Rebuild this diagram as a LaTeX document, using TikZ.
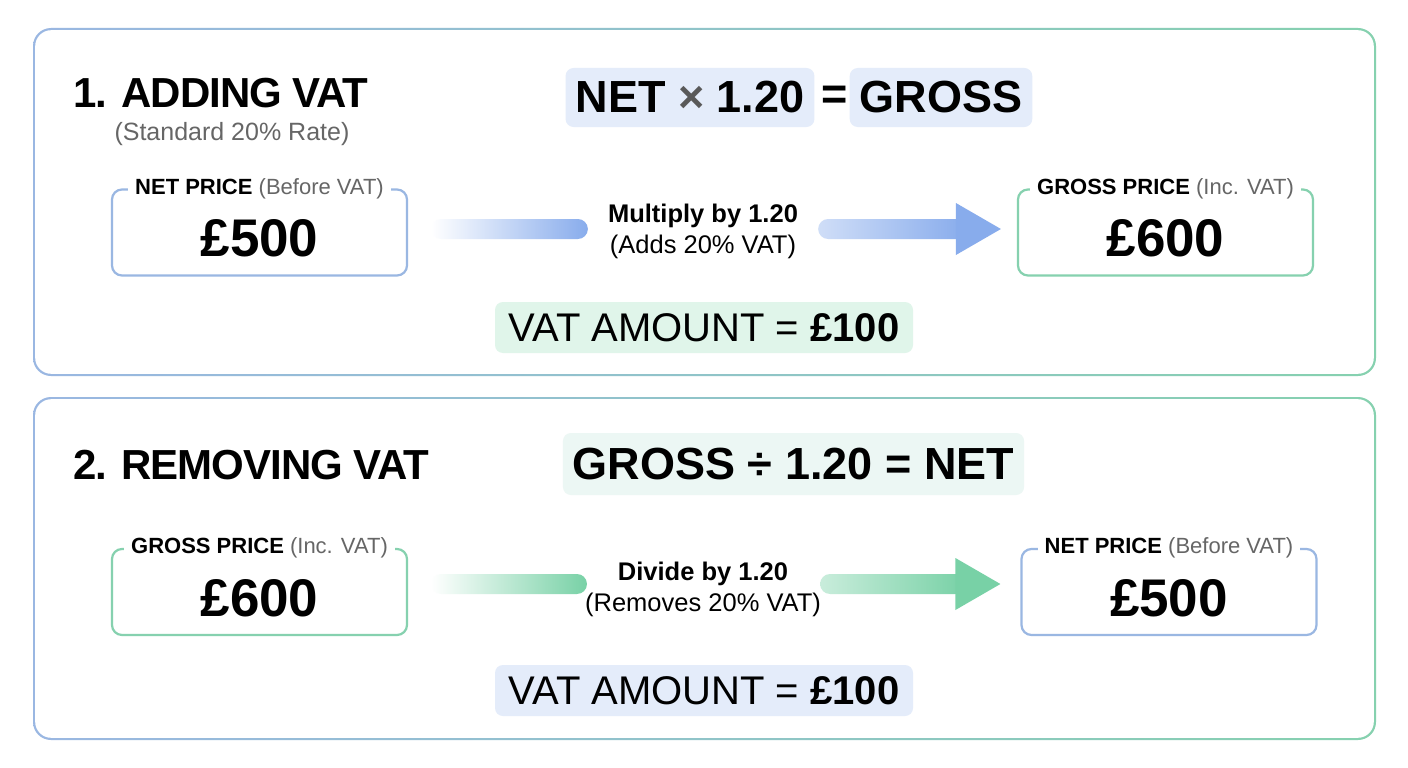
\documentclass[tikz,border=0pt]{standalone}
\usepackage{fontspec}
\setmainfont{Liberation Sans}
\newfontfamily\headfam{Liberation Sans}[LetterSpace=-2.5]
\usetikzlibrary{positioning,calc}

\definecolor{blueline}{HTML}{9AB7E2}
\definecolor{greenline}{HTML}{86D1AF}
\definecolor{bluefill}{HTML}{E4ECFA}
\definecolor{greenfill}{HTML}{E0F5EA}
\definecolor{tealfill}{HTML}{ECF7F4}
\definecolor{bluearrow}{HTML}{88ACEC}
\definecolor{greenarrow}{HTML}{78D1A6}
\definecolor{subgray}{HTML}{666666}

\tikzset{
  sectitle/.style={anchor=base west, font=\headfam\fontsize{42}{50}\selectfont\bfseries},
  secnote/.style={anchor=base west, text=subgray, font=\fontsize{25}{30}\selectfont},
  formbox/.style={rounded corners=8, minimum height=59, inner xsep=10, font=\fontsize{45}{54}\selectfont\bfseries},
  pricebox/.style={draw=#1, line width=2.2, rounded corners=10, minimum width=295, minimum height=86, inner sep=0},
  pricetag/.style={fill=white, inner xsep=7, inner ysep=2, font=\fontsize{22}{26}\selectfont},
  pricevalue/.style={font=\fontsize{53}{60}\selectfont\bfseries},
  steptext/.style={align=center, inner sep=0, font=\fontsize{25.5}{31}\selectfont},
  amountbox/.style={rounded corners=8, minimum width=418, minimum height=51, font=\fontsize{40}{48}\selectfont}
}

% gradient bar, text, gradient arrow
\newcommand\vatflow[5]{%
  \shade[left color=white, right color=#5, rounded corners=10] ($(#1)+(0,-10)$) rectangle ($(#2)+(0,10)$);
  \shade[left color=#5!40, right color=#5, rounded corners=10] ($(#3)+(0,-10)$) rectangle ($(#4)+(-35,10)$);
  \fill[#5] ($(#4)+(-45,-26)$) -- (#4) -- ($(#4)+(-45,26)$) -- cycle;
}

\begin{document}
\begin{tikzpicture}[x=1pt, y=-1pt]
  \useasboundingbox (0,0) rectangle (1408,768);
  \fill[white] (0,0) rectangle (1408,768);

  % the two panels
  \foreach \top/\bot in {28/376, 397/740} {
    \shade[left color=blueline, right color=greenline, rounded corners=18] (33,\top) rectangle (1376,\bot);
    \fill[white, rounded corners=16] (35.2,\top+2.2) rectangle (1373.8,\bot-2.2);
  }

  % 1. adding VAT
  \node[sectitle] (title1) at (70,107) {1. ADDING VAT};
  \node[secnote] (note1) at (111,140) {(Standard 20\% Rate)};

  \node[formbox, fill=bluefill] (form1a) at (690,97.5) {NET \textcolor{black!65}{×} 1.20};
  \node[font=\fontsize{45}{54}\selectfont\bfseries] (eq1) at (835,97.5) {=};
  \node[formbox, fill=bluefill] (form1b) at (941,97.5) {GROSS};

  \node[pricebox=blueline] (net1) at (259.5,232.5) {};
  \node[pricetag] at (net1.north) {\textbf{NET PRICE} \textcolor{subgray}{(Before VAT)}};
  \node[pricevalue] at ([yshift=-6]net1.center) {£500};

  \node[pricebox=greenline] (gross1) at (1165.5,232.5) {};
  \node[pricetag] at (gross1.north) {\textbf{GROSS PRICE} \textcolor{subgray}{(Inc. VAT)}};
  \node[pricevalue] at ([yshift=-6]gross1.center) {£600};

  \node[steptext] (mul1) at (703,231) {\textbf{Multiply by 1.20}\\(Adds 20\% VAT)};
  \coordinate (a1) at ($(net1.east |- 0,229)+(23,0)$);
  \coordinate (b1) at ($(mul1.west |- 0,229)+(-20,0)$);
  \coordinate (c1) at ($(mul1.east |- 0,229)+(20,0)$);
  \coordinate (d1) at ($(gross1.west |- 0,229)+(-16,0)$);
  \vatflow{a1}{b1}{c1}{d1}{bluearrow}

  \node[amountbox, fill=greenfill] (vat1) at (704,327.5) {VAT AMOUNT = \textbf{£100}};

  % 2. removing VAT
  \node[sectitle] (title2) at (70,479) {2. REMOVING VAT};

  \node[formbox, fill=tealfill, minimum height=62] (form2) at (793.5,464) {GROSS ÷ 1.20 = NET};

  \node[pricebox=greenline] (gross2) at (259.5,592) {};
  \node[pricetag] at (gross2.north) {\textbf{GROSS PRICE} \textcolor{subgray}{(Inc. VAT)}};
  \node[pricevalue] at ([yshift=-6]gross2.center) {£600};

  \node[pricebox=blueline] (net2) at (1169,592) {};
  \node[pricetag] at (net2.north) {\textbf{NET PRICE} \textcolor{subgray}{(Before VAT)}};
  \node[pricevalue] at ([yshift=-6]net2.center) {£500};

  \node[steptext] (div2) at (703,589) {\textbf{Divide by 1.20}\\(Removes 20\% VAT)};
  \coordinate (a2) at ($(gross2.east |- 0,584)+(23,0)$);
  \coordinate (b2) at ($(div2.west |- 0,584)+(2,0)$);
  \coordinate (c2) at ($(div2.east |- 0,584)+(-1,0)$);
  \coordinate (d2) at ($(net2.west |- 0,584)+(-20,0)$);
  \vatflow{a2}{b2}{c2}{d2}{greenarrow}

  \node[amountbox, fill=bluefill] (vat2) at (704,690.5) {VAT AMOUNT = \textbf{£100}};
\end{tikzpicture}
\end{document}
